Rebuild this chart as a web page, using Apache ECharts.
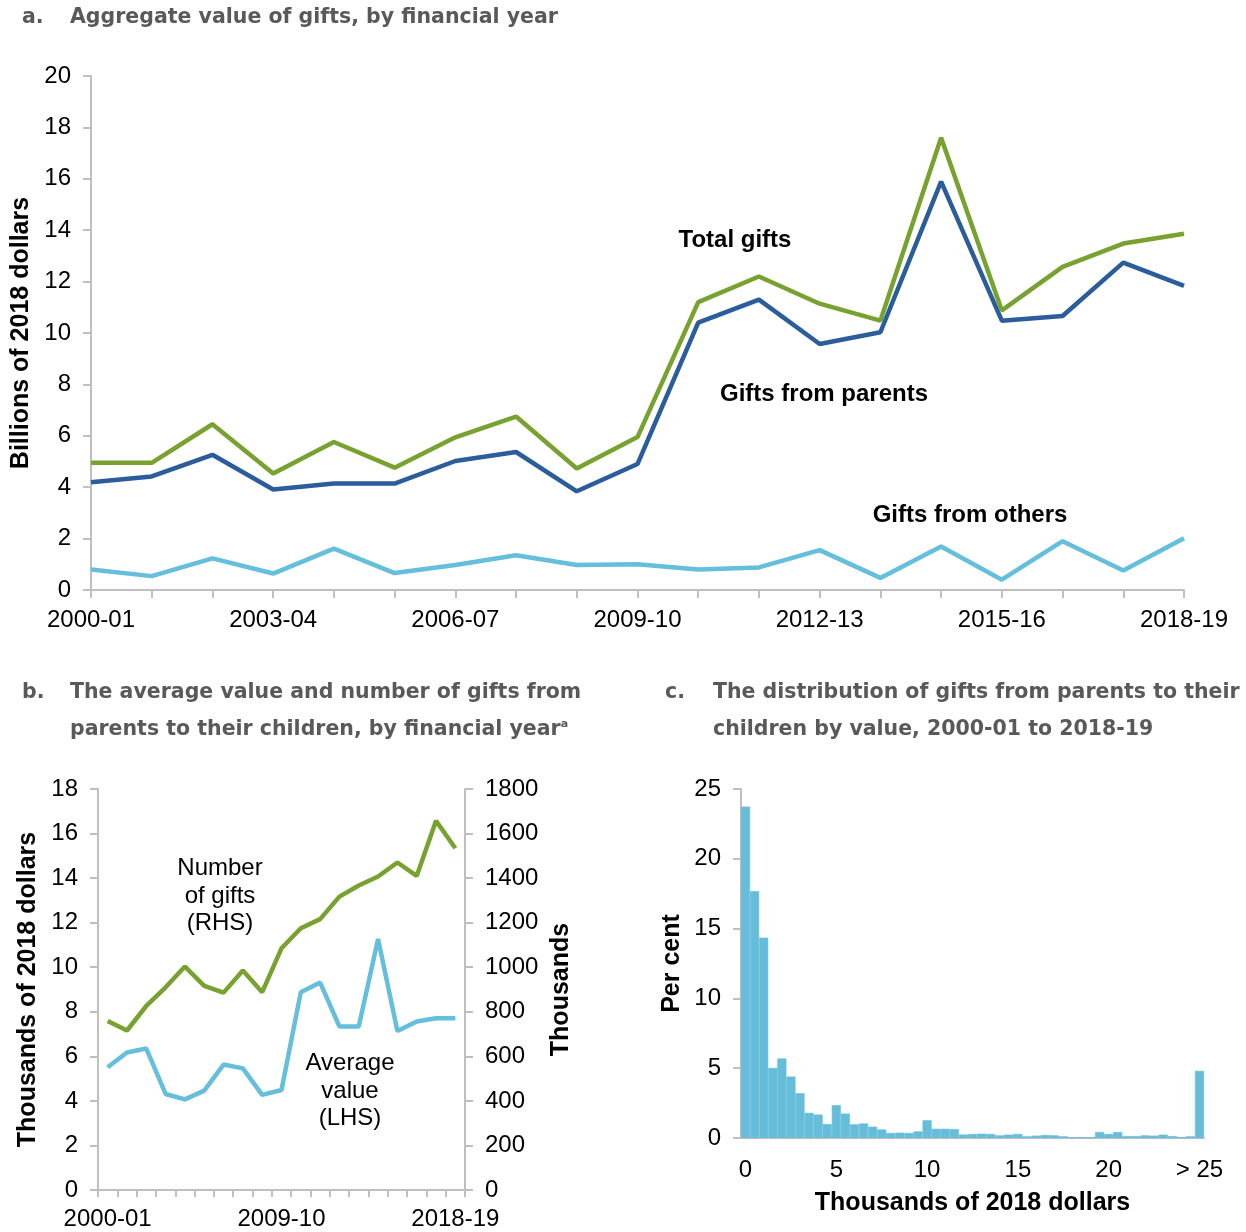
<!DOCTYPE html>
<html>
<head>
<meta charset="utf-8">
<script src="https://cdn.jsdelivr.net/npm/echarts@6/dist/echarts.min.js"></script>
<style>
  html, body { margin: 0; padding: 0; background: #fff; }
  #chart { width: 1246px; height: 1232px; }
</style>
</head>
<body>
<div id="chart"></div>
<script>
// ---------- data ----------
const years = ['2000-01','2001-02','2002-03','2003-04','2004-05','2005-06','2006-07','2007-08','2008-09','2009-10',
               '2010-11','2011-12','2012-13','2013-14','2014-15','2015-16','2016-17','2017-18','2018-19'];

// Panel a: billions of 2018 dollars
const totalGifts  = [4.95, 4.95, 6.45, 4.53, 5.76, 4.76, 5.94, 6.75, 4.73, 5.95, 11.2, 12.2, 11.14, 10.48, 17.6, 10.88, 12.57, 13.48, 13.86];
const parentGifts = [4.19, 4.42, 5.26, 3.91, 4.14, 4.14, 5.02, 5.37, 3.84, 4.9, 10.4, 11.3, 9.57, 10.03, 15.89, 10.48, 10.66, 12.74, 11.83];
const otherGifts  = [0.8, 0.54, 1.23, 0.64, 1.61, 0.66, 0.97, 1.35, 0.97, 1.0, 0.8, 0.88, 1.55, 0.47, 1.69, 0.4, 1.9, 0.76, 2.01];

// Panel b
const avgValue = [5.51, 6.17, 6.35, 4.31, 4.07, 4.46, 5.63, 5.46, 4.27, 4.49, 8.88, 9.31, 7.34, 7.34, 11.27, 7.14, 7.56, 7.71, 7.71]; // thousands of 2018 dollars (LHS)
const numGifts = [759, 716, 826, 910, 1003, 916, 886, 985, 888, 1085, 1175, 1216, 1317, 1367, 1407, 1470, 1410, 1657, 1534];      // thousands (RHS)

// Panel c: $500 bins from 0 to 25 thousand, then > 25
const binLabels = [];
for (let i = 0; i < 50; i++) binLabels.push(String(i * 0.5));
binLabels.push('> 25');
const distPct = [23.74, 17.68, 14.35, 5.02, 5.70, 4.40, 3.21, 1.80, 1.68, 1.00,
                 2.35, 1.75, 0.98, 1.04, 0.81, 0.61, 0.36, 0.38, 0.36, 0.47,
                 1.27, 0.66, 0.66, 0.64, 0.25, 0.29, 0.31, 0.29, 0.19, 0.24,
                 0.29, 0.12, 0.17, 0.22, 0.19, 0.12, 0.05, 0.07, 0.03, 0.43,
                 0.29, 0.43, 0.14, 0.14, 0.19, 0.17, 0.24, 0.14, 0.07, 0.12,
                 4.81];

// ---------- styles ----------
const FONT = '"Liberation Sans", Arial, sans-serif';
const TITLE_FONT = '"DejaVu Sans", "Liberation Sans", sans-serif';
const GREEN = '#78a22f', DARK = '#2b5c9b', LIGHT = '#64bedc', BAR = '#66bdda';
const AXIS = { lineStyle: { color: '#bfbfbf', width: 2 } };
const tickStyle = { lineStyle: { color: '#bfbfbf', width: 2 } };
const lab = { fontFamily: FONT, fontSize: 24, color: '#000' };
const nameStyle = { fontFamily: FONT, fontSize: 25, fontWeight: 'bold', color: '#000' };

function titleText(x, y, txt, rich) {
  return { type: 'text', left: x, top: y, style: { text: txt, font: 'bold 20.5px ' + TITLE_FONT, fill: '#595959', rich: rich } };
}
function annot(x, y, txt, bold) {
  return { type: 'text', x: x, y: y, style: { text: txt, font: (bold ? 'bold ' : '') + '24px ' + FONT, fill: '#000',
           align: 'center', verticalAlign: 'middle', lineHeight: 27.5 } };
}

const option = {
  animation: false,
  backgroundColor: '#fff',
  grid: [
    { left: 91, top: 76, width: 1093, height: 514 },
    { left: 98, top: 789, width: 367, height: 401 },
    { left: 741, top: 789, width: 463, height: 349 }
  ],
  xAxis: [
    { gridIndex: 0, type: 'category', data: years, boundaryGap: false,
      axisLine: AXIS, axisTick: { show: true, length: 8, interval: 0, lineStyle: tickStyle.lineStyle },
      axisLabel: Object.assign({ interval: 2, margin: 18 }, lab) },
    { gridIndex: 1, type: 'category', data: years, boundaryGap: true,
      axisLine: AXIS, axisTick: { show: true, length: 7, interval: 0, lineStyle: tickStyle.lineStyle },
      axisLabel: Object.assign({ interval: 8, margin: 17 }, lab) },
    { gridIndex: 2, type: 'category', data: binLabels, boundaryGap: true,
      axisLine: AXIS, axisTick: { show: false },
      axisLabel: Object.assign({ interval: 9, margin: 20,
        formatter: v => (v === '> 25' ? '> 25' : String(parseFloat(v))) }, lab),
      name: 'Thousands of 2018 dollars', nameLocation: 'middle', nameGap: 53, nameTextStyle: nameStyle }
  ],
  yAxis: [
    { gridIndex: 0, type: 'value', min: 0, max: 20, interval: 2,
      axisLine: Object.assign({ show: true }, AXIS), axisTick: { show: true, length: 8, lineStyle: tickStyle.lineStyle },
      splitLine: { show: false }, axisLabel: Object.assign({ margin: 20 }, lab),
      name: 'Billions of 2018 dollars', nameLocation: 'middle', nameRotate: 90, nameGap: 56, nameTextStyle: nameStyle },
    { gridIndex: 1, type: 'value', min: 0, max: 18, interval: 2, position: 'left',
      axisLine: Object.assign({ show: true }, AXIS), axisTick: { show: true, length: 8, lineStyle: tickStyle.lineStyle },
      splitLine: { show: false }, axisLabel: Object.assign({ margin: 20 }, lab),
      name: 'Thousands of 2018 dollars', nameLocation: 'middle', nameRotate: 90, nameGap: 57, nameTextStyle: nameStyle },
    { gridIndex: 1, type: 'value', min: 0, max: 1800, interval: 200, position: 'right',
      axisLine: Object.assign({ show: true }, AXIS), axisTick: { show: true, length: 8, lineStyle: tickStyle.lineStyle },
      splitLine: { show: false }, axisLabel: Object.assign({ margin: 20, formatter: v => String(v) }, lab),
      name: 'Thousands', nameLocation: 'middle', nameRotate: 90, nameGap: 84, nameTextStyle: nameStyle },
    { gridIndex: 2, type: 'value', min: 0, max: 25, interval: 5,
      axisLine: Object.assign({ show: true }, AXIS), axisTick: { show: true, length: 8, lineStyle: tickStyle.lineStyle },
      splitLine: { show: false }, axisLabel: Object.assign({ margin: 20 }, lab),
      name: 'Per cent', nameLocation: 'middle', nameRotate: 90, nameGap: 56, nameTextStyle: nameStyle }
  ],
  series: [
    { name: 'Gifts from others', type: 'line', xAxisIndex: 0, yAxisIndex: 0, data: otherGifts,
      showSymbol: false, lineStyle: { color: LIGHT, width: 4.5 }, itemStyle: { color: LIGHT } },
    { name: 'Gifts from parents', type: 'line', xAxisIndex: 0, yAxisIndex: 0, data: parentGifts,
      showSymbol: false, lineStyle: { color: DARK, width: 4.5 }, itemStyle: { color: DARK } },
    { name: 'Total gifts', type: 'line', xAxisIndex: 0, yAxisIndex: 0, data: totalGifts,
      showSymbol: false, lineStyle: { color: GREEN, width: 4.5 }, itemStyle: { color: GREEN } },
    { name: 'Number of gifts (RHS)', type: 'line', xAxisIndex: 1, yAxisIndex: 2, data: numGifts,
      showSymbol: false, lineStyle: { color: GREEN, width: 4.5 }, itemStyle: { color: GREEN } },
    { name: 'Average value (LHS)', type: 'line', xAxisIndex: 1, yAxisIndex: 1, data: avgValue,
      showSymbol: false, lineStyle: { color: LIGHT, width: 4.5 }, itemStyle: { color: LIGHT } },
    { name: 'Distribution', type: 'bar', xAxisIndex: 2, yAxisIndex: 3, data: distPct,
      barCategoryGap: '0%', itemStyle: { color: BAR, borderColor: BAR, borderWidth: 0.6 } }
  ],
  graphic: [
    titleText(22, 7, 'a.'),
    titleText(70, 7, 'Aggregate value of gifts, by financial year'),
    titleText(22, 682, 'b.'),
    titleText(70, 682, 'The average value and number of gifts from'),
    titleText(70, 719, 'parents to their children, by financial year{sup|a}',
      { sup: { fontSize: 11, fontWeight: 'bold', fontFamily: TITLE_FONT, fill: '#595959', padding: [0, 0, 10, 0] } }),
    titleText(665, 682, 'c.'),
    titleText(713, 682, 'The distribution of gifts from parents to their'),
    titleText(713, 719, 'children by value, 2000-01 to 2018-19'),
    annot(735, 240, 'Total gifts', true),
    annot(824, 394, 'Gifts from parents', true),
    annot(970, 515, 'Gifts from others', true),
    annot(220, 896, 'Number\nof gifts\n(RHS)', false),
    annot(350, 1091, 'Average\nvalue\n(LHS)', false)
  ]
};

const chart = echarts.init(document.getElementById('chart'), null, { renderer: 'canvas' });
chart.setOption(option);
</script>
</body>
</html>
